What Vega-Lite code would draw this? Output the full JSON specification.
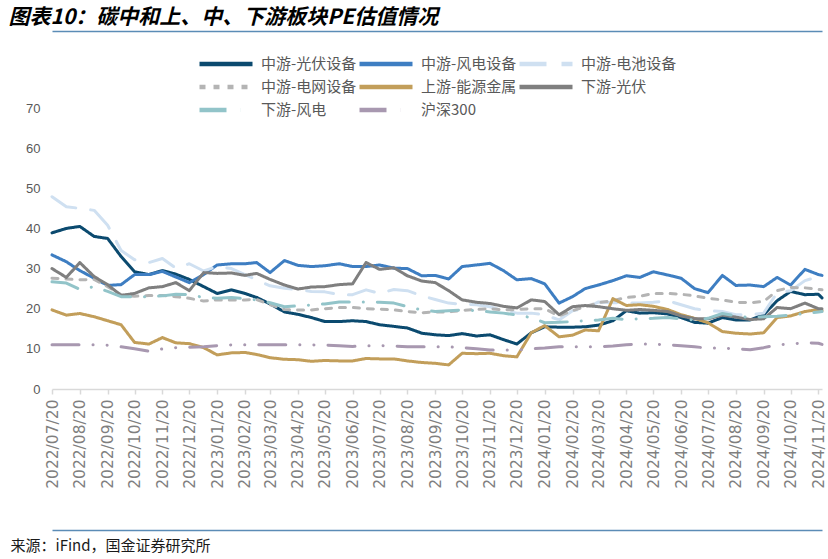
{
  "$schema": "https://vega.github.io/schema/vega-lite/v6.json",
  "width": 770,
  "height": 281,
  "autosize": {"type": "none"},
  "padding": {"left": 52, "top": 108, "right": 6, "bottom": 170},
  "background": "white",
  "config": {"view": {"stroke": null}},
  "data": {
    "values": [
      {"d": "2022-07-20", "中游-光伏设备": 38.9, "中游-风电设备": 33.4, "中游-电池设备": 47.9, "中游-电网设备": 27.6, "上游-能源金属": 19.7, "下游-光伏": 30, "下游-风电": 26.7, "沪深300": 11},
      {"d": "2022-08-05", "中游-光伏设备": 40, "中游-风电设备": 31.7, "中游-电池设备": 45.4, "中游-电网设备": 27.4, "上游-能源金属": 18.4, "下游-光伏": 27.8, "下游-风电": 26.4, "沪深300": 11},
      {"d": "2022-08-20", "中游-光伏设备": 40.5, "中游-风电设备": 29.5, "中游-电池设备": 45, "中游-电网设备": 27.2, "上游-能源金属": 18.8, "下游-光伏": 31.5, "下游-风电": 24.8, "沪深300": 11},
      {"d": "2022-09-05", "中游-光伏设备": 38, "中游-风电设备": 27.6, "中游-电池设备": 44.5, "中游-电网设备": 27.3, "上游-能源金属": 18, "下游-光伏": 28, "下游-风电": 25.5, "沪深300": 11},
      {"d": "2022-09-20", "中游-光伏设备": 37.5, "中游-风电设备": 25.8, "中游-电池设备": 40.8, "中游-电网设备": 25.5, "上游-能源金属": 17, "下游-光伏": 26, "下游-风电": 24.3, "沪深300": 10.9},
      {"d": "2022-10-05", "中游-光伏设备": 33, "中游-风电设备": 26, "中游-电池设备": 34.5, "中游-电网设备": 23.5, "上游-能源金属": 16, "下游-光伏": 23.3, "下游-风电": 23, "沪深300": 10.5},
      {"d": "2022-10-20", "中游-光伏设备": 29.2, "中游-风电设备": 28.5, "中游-电池设备": 32.2, "中游-电网设备": 23.1, "上游-能源金属": 11.6, "下游-光伏": 23.8, "下游-风电": 23, "沪深300": 10},
      {"d": "2022-11-05", "中游-光伏设备": 28.5, "中游-风电设备": 28.5, "中游-电池设备": 31.5, "中游-电网设备": 23.3, "上游-能源金属": 11.2, "下游-光伏": 25.2, "下游-风电": 23, "沪深300": 9.4},
      {"d": "2022-11-20", "中游-光伏设备": 29.5, "中游-风电设备": 29.3, "中游-电池设备": 32.5, "中游-电网设备": 23.3, "上游-能源金属": 12.8, "下游-光伏": 25.5, "下游-风电": 23.2, "沪深300": 10},
      {"d": "2022-12-05", "中游-光伏设备": 28.6, "中游-风电设备": 27.9, "中游-电池设备": 30.1, "中游-电网设备": 23, "上游-能源金属": 11.5, "下游-光伏": 26.5, "下游-风电": 23.6, "沪深300": 10.3},
      {"d": "2022-12-20", "中游-光伏设备": 27.3, "中游-风电设备": 26.5, "中游-电池设备": 31.2, "中游-电网设备": 22.6, "上游-能源金属": 11.3, "下游-光伏": 24.5, "下游-风电": 23.5, "沪深300": 10.4},
      {"d": "2023-01-05", "中游-光伏设备": 25.5, "中游-风电设备": 28.5, "中游-电池设备": 29.4, "中游-电网设备": 21.9, "上游-能源金属": 10.3, "下游-光伏": 29, "下游-风电": 22.8, "沪深300": 10.5},
      {"d": "2023-01-20", "中游-光伏设备": 23.8, "中游-风电设备": 30.9, "中游-电池设备": 30.5, "中游-电网设备": 22.2, "上游-能源金属": 8.5, "下游-光伏": 28.8, "下游-风电": 22.6, "沪深300": 10.8},
      {"d": "2023-02-05", "中游-光伏设备": 24.7, "中游-风电设备": 31.2, "中游-电池设备": 30, "中游-电网设备": 22.2, "上游-能源金属": 9, "下游-光伏": 28.9, "下游-风电": 22.8, "沪深300": 11},
      {"d": "2023-02-20", "中游-光伏设备": 23.8, "中游-风电设备": 31.2, "中游-电池设备": 28.5, "中游-电网设备": 22.2, "上游-能源金属": 9.1, "下游-光伏": 28.3, "下游-风电": 22.5, "沪深300": 11},
      {"d": "2023-03-05", "中游-光伏设备": 22.8, "中游-风电设备": 31.5, "中游-电池设备": 27.2, "中游-电网设备": 22.3, "上游-能源金属": 8.6, "下游-光伏": 28.8, "下游-风电": 22.2, "沪深300": 11},
      {"d": "2023-03-20", "中游-光伏设备": 21.2, "中游-风电设备": 29, "中游-电池设备": 25.7, "中游-电网设备": 21, "上游-能源金属": 7.8, "下游-光伏": 27.3, "下游-风电": 21.5, "沪深300": 11},
      {"d": "2023-04-05", "中游-光伏设备": 19.2, "中游-风电设备": 32, "中游-电池设备": 25.1, "中游-电网设备": 19.8, "上游-能源金属": 7.4, "下游-光伏": 25.9, "下游-风电": 20.5, "沪深300": 11},
      {"d": "2023-04-20", "中游-光伏设备": 18.6, "中游-风电设备": 30.8, "中游-电池设备": 24.8, "中游-电网设备": 19.7, "上游-能源金属": 7.3, "下游-光伏": 24.9, "下游-风电": 20.7, "沪深300": 11},
      {"d": "2023-05-05", "中游-光伏设备": 17.8, "中游-风电设备": 30.5, "中游-电池设备": 24.3, "中游-电网设备": 19.7, "上游-能源金属": 6.9, "下游-光伏": 25.4, "下游-风电": 20.9, "沪深300": 11},
      {"d": "2023-05-20", "中游-光伏设备": 16.8, "中游-风电设备": 30.7, "中游-电池设备": 24.2, "中游-电网设备": 20, "上游-能源金属": 7.1, "下游-光伏": 25.5, "下游-风电": 21.2, "沪深300": 10.9},
      {"d": "2023-06-05", "中游-光伏设备": 16.8, "中游-风电设备": 31.2, "中游-电池设备": 23.5, "中游-电网设备": 20.3, "上游-能源金属": 7, "下游-光伏": 26, "下游-风电": 21.7, "沪深300": 10.8},
      {"d": "2023-06-20", "中游-光伏设备": 17, "中游-风电设备": 30.5, "中游-电池设备": 23.5, "中游-电网设备": 20.3, "上游-能源金属": 7, "下游-光伏": 26.2, "下游-风电": 21.7, "沪深300": 10.6},
      {"d": "2023-07-05", "中游-光伏设备": 16.8, "中游-风电设备": 30.5, "中游-电池设备": 24.7, "中游-电网设备": 20, "上游-能源金属": 7.6, "下游-光伏": 31.5, "下游-风电": 21.7, "沪深300": 10.8},
      {"d": "2023-07-20", "中游-光伏设备": 16, "中游-风电设备": 30.9, "中游-电池设备": 23.8, "中游-电网设备": 19.9, "上游-能源金属": 7.5, "下游-光伏": 29.8, "下游-风电": 21.6, "沪深300": 10.8},
      {"d": "2023-08-05", "中游-光伏设备": 15.6, "中游-风电设备": 30.1, "中游-电池设备": 24.8, "中游-电网设备": 19.7, "上游-能源金属": 7.5, "下游-光伏": 30.2, "下游-风电": 21.4, "沪深300": 10.7},
      {"d": "2023-08-20", "中游-光伏设备": 15.2, "中游-风电设备": 30, "中游-电池设备": 24.5, "中游-电网设备": 19.3, "上游-能源金属": 7, "下游-光伏": 28.2, "下游-风电": 20.5, "沪深300": 10.5},
      {"d": "2023-09-05", "中游-光伏设备": 13.9, "中游-风电设备": 28.2, "中游-电池设备": 23.2, "中游-电网设备": 19, "上游-能源金属": 6.6, "下游-光伏": 26.9, "下游-风电": 19.7, "沪深300": 10.5},
      {"d": "2023-09-20", "中游-光伏设备": 13.5, "中游-风电设备": 28.3, "中游-电池设备": 22.3, "中游-电网设备": 19.2, "上游-能源金属": 6.4, "下游-光伏": 26.5, "下游-风电": 19.3, "沪深300": 10.5},
      {"d": "2023-10-05", "中游-光伏设备": 13.3, "中游-风电设备": 27.4, "中游-电池设备": 21.4, "中游-电网设备": 19.2, "上游-能源金属": 6, "下游-光伏": 24.5, "下游-风电": 19.5, "沪深300": 10.5},
      {"d": "2023-10-20", "中游-光伏设备": 13.8, "中游-风电设备": 30.5, "中游-电池设备": 21.1, "中游-电网设备": 19.6, "上游-能源金属": 8.9, "下游-光伏": 22.2, "下游-风电": 19.7, "沪深300": 10.3},
      {"d": "2023-11-05", "中游-光伏设备": 13.2, "中游-风电设备": 30.9, "中游-电池设备": 21, "中游-电网设备": 19.8, "上游-能源金属": 8.8, "下游-光伏": 21.6, "下游-风电": 19.5, "沪深300": 10},
      {"d": "2023-11-20", "中游-光伏设备": 13.5, "中游-风电设备": 31.3, "中游-电池设备": 20.5, "中游-电网设备": 20, "上游-能源金属": 8.9, "下游-光伏": 21.3, "下游-风电": 19.2, "沪深300": 9.7},
      {"d": "2023-12-05", "中游-光伏设备": 12.3, "中游-风电设备": 29.5, "中游-电池设备": 19.5, "中游-电网设备": 19.7, "上游-能源金属": 8.3, "下游-光伏": 20.6, "下游-风电": 18.9, "沪深300": 9.7},
      {"d": "2023-12-20", "中游-光伏设备": 11.2, "中游-风电设备": 27.2, "中游-电池设备": 18.9, "中游-电网设备": 19.8, "上游-能源金属": 8, "下游-光伏": 20.2, "下游-风电": 18.4, "沪深300": 9.7},
      {"d": "2024-01-05", "中游-光伏设备": 14, "中游-风电设备": 27.5, "中游-电池设备": 18.9, "中游-电网设备": 20, "上游-能源金属": 14, "下游-光伏": 22.2, "下游-风电": 17.8, "沪深300": 10},
      {"d": "2024-01-20", "中游-光伏设备": 15.5, "中游-风电设备": 26.2, "中游-电池设备": 18.5, "中游-电网设备": 20, "上游-能源金属": 15.8, "下游-光伏": 21.8, "下游-风电": 16.5, "沪深300": 10.2},
      {"d": "2024-02-05", "中游-光伏设备": 15.4, "中游-风电设备": 21.4, "中游-电池设备": 17.2, "中游-电网设备": 18.2, "上游-能源金属": 13, "下游-光伏": 18.5, "下游-风电": 16.6, "沪深300": 10.5},
      {"d": "2024-02-20", "中游-光伏设备": 15.4, "中游-风电设备": 23, "中游-电池设备": 19.5, "中游-电网设备": 19.5, "上游-能源金属": 13.4, "下游-光伏": 20.5, "下游-风电": 16.8, "沪深300": 10.5},
      {"d": "2024-03-05", "中游-光伏设备": 15.5, "中游-风电设备": 25, "中游-电池设备": 20, "中游-电网设备": 20.5, "上游-能源金属": 14.7, "下游-光伏": 20.8, "下游-风电": 17, "沪深300": 10.5},
      {"d": "2024-03-20", "中游-光伏设备": 15.9, "中游-风电设备": 25.9, "中游-电池设备": 21.7, "中游-电网设备": 21.5, "上游-能源金属": 14.5, "下游-光伏": 20.5, "下游-风电": 17.2, "沪深300": 10.5},
      {"d": "2024-04-05", "中游-光伏设备": 17, "中游-风电设备": 27, "中游-电池设备": 21.5, "中游-电网设备": 22, "上游-能源金属": 22.5, "下游-光伏": 20, "下游-风电": 17.6, "沪深300": 10.7},
      {"d": "2024-04-20", "中游-光伏设备": 19.5, "中游-风电设备": 28.2, "中游-电池设备": 21.4, "中游-电网设备": 22.8, "上游-能源金属": 20.8, "下游-光伏": 19.6, "下游-风电": 17.3, "沪深300": 11},
      {"d": "2024-05-05", "中游-光伏设备": 18.9, "中游-风电设备": 27.8, "中游-电池设备": 21.4, "中游-电网设备": 23.1, "上游-能源金属": 21, "下游-光伏": 19.8, "下游-风电": 17.5, "沪深300": 11.2},
      {"d": "2024-05-20", "中游-光伏设备": 19, "中游-风电设备": 29.2, "中游-电池设备": 21.6, "中游-电网设备": 23.8, "上游-能源金属": 20.6, "下游-光伏": 19.6, "下游-风电": 17.6, "沪深300": 11.2},
      {"d": "2024-06-05", "中游-光伏设备": 18.7, "中游-风电设备": 28.4, "中游-电池设备": 22, "中游-电网设备": 23.8, "上游-能源金属": 19.8, "下游-光伏": 19.3, "下游-风电": 17.8, "沪深300": 11},
      {"d": "2024-06-20", "中游-光伏设备": 17.8, "中游-风电设备": 27.6, "中游-电池设备": 21, "中游-电网设备": 23.6, "上游-能源金属": 18.5, "下游-光伏": 18.2, "下游-风电": 17.5, "沪深300": 10.8},
      {"d": "2024-07-05", "中游-光伏设备": 16.6, "中游-风电设备": 25, "中游-电池设备": 20, "中游-电网设备": 23.2, "上游-能源金属": 17.6, "下游-光伏": 17.5, "下游-风电": 17.2, "沪深300": 10.5},
      {"d": "2024-07-20", "中游-光伏设备": 16.4, "中游-风电设备": 24, "中游-电池设备": 19.5, "中游-电网设备": 22.6, "上游-能源金属": 16.5, "下游-光伏": 17.5, "下游-风电": 17.6, "沪深300": 10.2},
      {"d": "2024-08-05", "中游-光伏设备": 17.8, "中游-风电设备": 28.3, "中游-电池设备": 19.3, "中游-电网设备": 22.2, "上游-能源金属": 14.3, "下游-光伏": 18.4, "下游-风电": 18.8, "沪深300": 10.2},
      {"d": "2024-08-20", "中游-光伏设备": 17.2, "中游-风电设备": 25.8, "中游-电池设备": 18.5, "中游-电网设备": 21.6, "上游-能源金属": 13.9, "下游-光伏": 17.9, "下游-风电": 18.2, "沪深300": 10},
      {"d": "2024-09-05", "中游-光伏设备": 17.2, "中游-风电设备": 25.9, "中游-电池设备": 18.5, "中游-电网设备": 21.5, "上游-能源金属": 13.7, "下游-光伏": 17.3, "下游-风电": 17.8, "沪深300": 9.8},
      {"d": "2024-09-20", "中游-光伏设备": 18.5, "中游-风电设备": 25.5, "中游-电池设备": 18.9, "中游-电网设备": 21.8, "上游-能源金属": 14, "下游-光伏": 17.5, "下游-风电": 18, "沪深300": 10.3},
      {"d": "2024-10-05", "中游-光伏设备": 22, "中游-风电设备": 27.8, "中游-电池设备": 24, "中游-电网设备": 24.5, "上游-能源金属": 17.8, "下游-光伏": 20.3, "下游-风电": 18.1, "沪深300": 11},
      {"d": "2024-10-20", "中游-光伏设备": 24.3, "中游-风电设备": 25.9, "中游-电池设备": 24.5, "中游-电网设备": 25.3, "上游-能源金属": 18.2, "下游-光伏": 20, "下游-风电": 18.4, "沪深300": 11.2},
      {"d": "2024-11-05", "中游-光伏设备": 23.5, "中游-风电设备": 29.8, "中游-电池设备": 27, "中游-电网设备": 25.2, "上游-能源金属": 19.3, "下游-光伏": 21.4, "下游-风电": 18.8, "沪深300": 11.5},
      {"d": "2024-11-20", "中游-光伏设备": 23.6, "中游-风电设备": 28.5, "中游-电池设备": 28, "中游-电网设备": 24.8, "上游-能源金属": 19.8, "下游-光伏": 20, "下游-风电": 19.2, "沪深300": 11.4},
      {"d": "2024-11-24", "中游-光伏设备": 22.7, "中游-风电设备": 28.3, "中游-电池设备": 28.2, "中游-电网设备": 24.7, "上游-能源金属": 19.5, "下游-光伏": 20, "下游-风电": 19.3, "沪深300": 11.1}
    ]
  },
  "transform": [
    {"fold": ["中游-光伏设备", "中游-风电设备", "中游-电池设备", "中游-电网设备", "上游-能源金属", "下游-光伏", "下游-风电", "沪深300"], "as": ["s", "v"]}
  ],
  "resolve": {"axis": {"x": "independent"}},
  "layer": [
    {
      "mark": {"type": "line", "opacity": 0},
      "encoding": {
        "x": {
          "field": "d",
          "type": "temporal",
          "axis": {
            "orient": "top",
            "offset": 77,
            "domain": true,
            "domainColor": "#5b8cb6",
            "domainWidth": 1.5,
            "labels": false,
            "ticks": false,
            "grid": false,
            "title": "图表10：碳中和上、中、下游板块PE估值情况",
            "titleFont": "Noto Sans CJK SC",
            "titleFontSize": 21,
            "titleFontWeight": "bold",
            "titleFontStyle": "italic",
            "titleColor": "#000000",
            "titleAnchor": "start",
            "titleAlign": "left",
            "titleBaseline": "middle",
            "titleX": -44,
            "titleY": -14
          }
        },
        "y": {"field": "v", "type": "quantitative"}
      }
    },
    {
      "mark": {"type": "line", "opacity": 0},
      "encoding": {
        "x": {
          "field": "d",
          "type": "temporal",
          "axis": {
            "orient": "bottom",
            "offset": 141,
            "domain": true,
            "domainColor": "#5b8cb6",
            "domainWidth": 1.5,
            "labels": false,
            "ticks": false,
            "grid": false,
            "title": "来源：iFind，国金证券研究所",
            "titleFont": "Noto Sans CJK SC",
            "titleFontSize": 15,
            "titleFontWeight": "normal",
            "titleColor": "#1a1a1a",
            "titleAnchor": "start",
            "titleAlign": "left",
            "titleBaseline": "middle",
            "titleX": -42,
            "titleY": 15
          }
        },
        "y": {"field": "v", "type": "quantitative"}
      }
    },
    {
      "mark": {"type": "line", "strokeWidth": 3, "strokeCap": "round", "strokeJoin": "round"},
      "encoding": {
        "x": {
          "field": "d",
          "type": "temporal",
          "scale": {"type": "utc", "domain": [{"year": 2022, "month": 7, "date": 20, "utc": true}, {"year": 2024, "month": 11, "date": 24, "utc": true}]},
          "axis": {
            "values": [
              {"year": 2022, "month": 7, "date": 20, "utc": true},
              {"year": 2022, "month": 8, "date": 20, "utc": true},
              {"year": 2022, "month": 9, "date": 20, "utc": true},
              {"year": 2022, "month": 10, "date": 20, "utc": true},
              {"year": 2022, "month": 11, "date": 20, "utc": true},
              {"year": 2022, "month": 12, "date": 20, "utc": true},
              {"year": 2023, "month": 1, "date": 20, "utc": true},
              {"year": 2023, "month": 2, "date": 20, "utc": true},
              {"year": 2023, "month": 3, "date": 20, "utc": true},
              {"year": 2023, "month": 4, "date": 20, "utc": true},
              {"year": 2023, "month": 5, "date": 20, "utc": true},
              {"year": 2023, "month": 6, "date": 20, "utc": true},
              {"year": 2023, "month": 7, "date": 20, "utc": true},
              {"year": 2023, "month": 8, "date": 20, "utc": true},
              {"year": 2023, "month": 9, "date": 20, "utc": true},
              {"year": 2023, "month": 10, "date": 20, "utc": true},
              {"year": 2023, "month": 11, "date": 20, "utc": true},
              {"year": 2023, "month": 12, "date": 20, "utc": true},
              {"year": 2024, "month": 1, "date": 20, "utc": true},
              {"year": 2024, "month": 2, "date": 20, "utc": true},
              {"year": 2024, "month": 3, "date": 20, "utc": true},
              {"year": 2024, "month": 4, "date": 20, "utc": true},
              {"year": 2024, "month": 5, "date": 20, "utc": true},
              {"year": 2024, "month": 6, "date": 20, "utc": true},
              {"year": 2024, "month": 7, "date": 20, "utc": true},
              {"year": 2024, "month": 8, "date": 20, "utc": true},
              {"year": 2024, "month": 9, "date": 20, "utc": true},
              {"year": 2024, "month": 10, "date": 20, "utc": true},
              {"year": 2024, "month": 11, "date": 20, "utc": true}
            ],
            "labelExpr": "utcFormat(datum.value, '%Y/%m/%d')",
            "labelAngle": 270,
            "labelFont": "DejaVu Sans",
            "labelFontSize": 15.5,
            "labelColor": "#7f7f7f",
            "labelPadding": 5,
            "labelOverlap": false,
            "labelFlush": false,
            "grid": false,
            "domainColor": "#d9d9d9",
            "domainWidth": 1.5,
            "tickColor": "#d9d9d9",
            "tickSize": 5,
            "tickWidth": 1.5,
            "title": null
          }
        },
        "y": {
          "field": "v",
          "type": "quantitative",
          "scale": {"domain": [0, 70], "nice": false, "zero": true},
          "axis": {
            "values": [0, 10, 20, 30, 40, 50, 60, 70],
            "grid": false,
            "domain": false,
            "ticks": false,
            "labelPadding": 12,
            "labelFont": "Liberation Sans Narrow, Liberation Sans, sans-serif",
            "labelFontSize": 13,
            "labelColor": "#595959",
            "title": null
          }
        },
        "color": {
          "field": "s",
          "type": "nominal",
          "scale": {
            "domain": ["中游-光伏设备", "中游-风电设备", "中游-电池设备", "中游-电网设备", "上游-能源金属", "下游-光伏", "下游-风电", "沪深300"],
            "range": ["#0b4a6f", "#3e7ec2", "#cfe0f1", "#b4b4b4", "#c29e5a", "#7f7f7f", "#92c4c9", "#a898b0"]
          },
          "legend": {
            "orient": "none",
            "legendX": 145,
            "legendY": -51,
            "direction": "horizontal",
            "columns": 3,
            "gridAlign": "all",
            "columnPadding": -38,
            "rowPadding": 8,
            "clipHeight": 14,
            "symbolType": "stroke",
            "symbolSize": 2809,
            "symbolStrokeWidth": 4.5,
            "labelFont": "Noto Sans CJK SC",
            "labelFontSize": 15,
            "labelColor": "#595959",
            "labelOffset": 6,
            "labelLimit": 200,
            "title": null
          }
        },
        "strokeDash": {
          "field": "s",
          "type": "nominal",
          "scale": {
            "domain": ["中游-光伏设备", "中游-风电设备", "中游-电池设备", "中游-电网设备", "上游-能源金属", "下游-光伏", "下游-风电", "沪深300"],
            "range": [[1, 0], [1, 0], [27, 15], [6, 8], [1, 0], [1, 0], [27, 14, 0.1, 14], [27, 14, 0.1, 14, 0.1, 14]]
          },
          "legend": {
            "orient": "none",
            "legendX": 145,
            "legendY": -51,
            "direction": "horizontal",
            "columns": 3,
            "gridAlign": "all",
            "columnPadding": -38,
            "rowPadding": 8,
            "clipHeight": 14,
            "symbolType": "stroke",
            "symbolSize": 2809,
            "symbolStrokeWidth": 4.5,
            "labelFont": "Noto Sans CJK SC",
            "labelFontSize": 15,
            "labelColor": "#595959",
            "labelOffset": 6,
            "labelLimit": 200,
            "title": null
          }
        }
      }
    }
  ]
}
